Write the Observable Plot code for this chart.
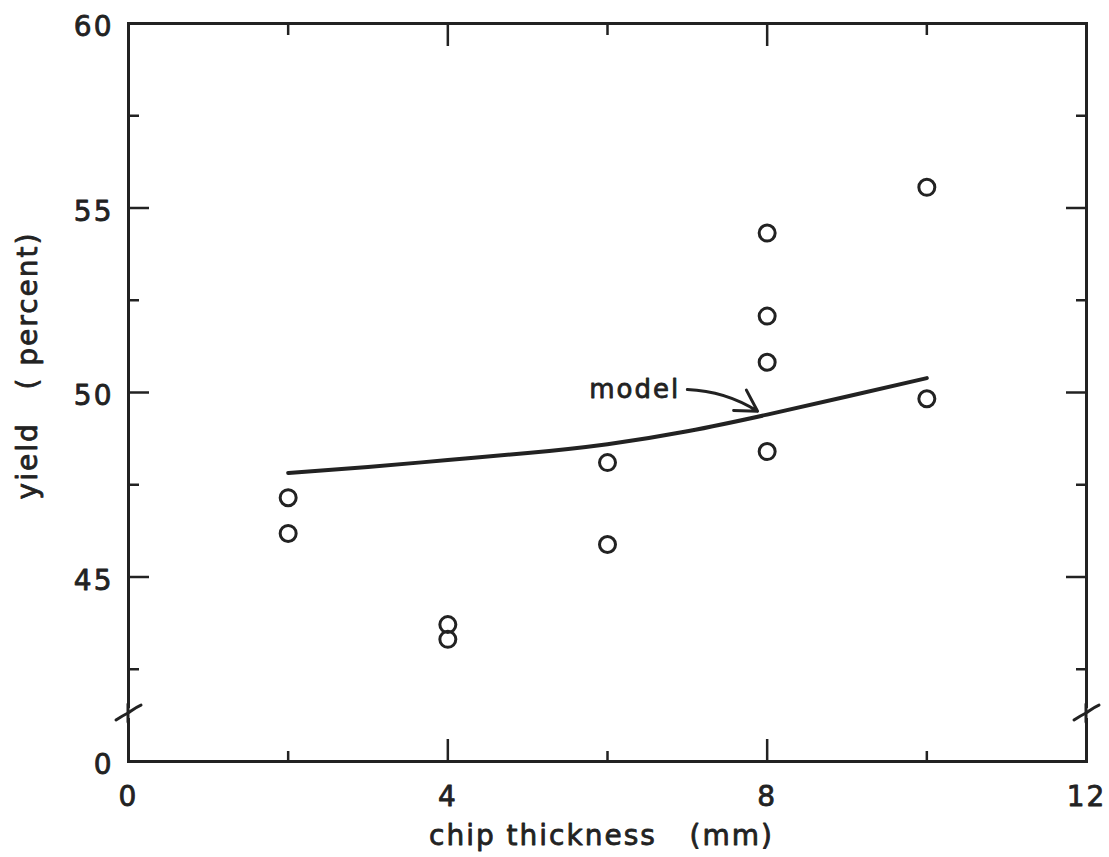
<!DOCTYPE html>
<html>
<head>
<meta charset="utf-8">
<script src="https://cdn.jsdelivr.net/npm/d3@7"></script>
<script src="https://cdn.jsdelivr.net/npm/@observablehq/plot@0.6"></script>
<style>
  html, body { margin: 0; padding: 0; background: #fff; }
  svg text { white-space: pre; }
</style>
</head>
<body>
<div id="chart"></div>
<script>
// observed data
const thickness = [2, 2, 4, 4, 6, 6, 8, 8, 8, 8, 10, 10];
const yieldPct  = [47.15, 46.18, 43.71, 43.31, 48.10, 45.88, 54.32, 52.07, 50.82, 48.40, 55.56, 49.83];

// model curve
const modelX = [2, 3, 4, 5, 6, 7, 8, 9, 10];
const modelY = [47.82, 47.98, 48.17, 48.36, 48.60, 48.95, 49.40, 49.89, 50.39];

// axes
const xDomain = [0, 12];
const yDomain = [40, 60];          // bottom of broken axis is labelled "0"
const xMajorTicks = [4, 8];
const xMinorTicks = [2, 6, 10];
const xTickLabels = [0, 4, 8, 12];
const yMajorTicks = [45, 50, 55];
const yMinorTicks = [42.5, 47.5, 52.5, 57.5];
const yTickValues = [40, 45, 50, 55, 60];
const yTickText   = ["0", "45", "50", "55", "60"];
const yBreak = 41.3;

const xLabel = "chip thickness   (mm)";
const yLabel = "yield   ( percent)";
const modelLabel = {text: "model", x: 6.91, y: 50.08};
const modelArrow = {x1: 7.0, y1: 50.08, x2: 7.88, y2: 49.49};

const points = thickness.map((x, i) => ({x, y: yieldPct[i]}));
const model = modelX.map((x, i) => ({x, y: modelY[i]}));

const ink = "#222";

const breakMarks = (index, {x, y}) => {
  const g = d3.create("svg:g")
    .attr("fill", "none").attr("stroke", ink)
    .attr("stroke-width", 3).attr("stroke-linecap", "round");
  for (const xv of xDomain) {
    const px = x(xv), py = y(yBreak);
    g.append("path").attr("fill", "#fff").attr("stroke", "none")
      .attr("d", `M${px-4},${py-5}h8v10h-8z`);
    g.append("path")
      .attr("d", `M${px-12},${py+7} C${px-6},${py+3} ${px-2},${py+1} ${px},${py} S${px+6},${py-5} ${px+13},${py-8}`);
    g.append("path").attr("d", `M${px},${py-9}L${px},${py-1}M${px},${py+1}L${px},${py+9}`);
  }
  return g.node();
};

const tickOpts = {tickFormat: () => "", label: null, stroke: ink, strokeWidth: 2.5};
const textThick = {textStroke: ink, textStrokeWidth: 0.8};

const chart = Plot.plot({
  width: 1109,
  height: 857,
  marginLeft: 128,
  marginRight: 23,
  marginTop: 23,
  marginBottom: 96,
  style: {fontFamily: "DejaVu Sans", fontSize: "28px", letterSpacing: "2px", color: ink, background: "#fff"},
  x: {domain: xDomain},
  y: {domain: yDomain},
  marks: [
    // inward ticks on all four sides
    Plot.axisX(xMajorTicks, {...tickOpts, anchor: "bottom", tickSize: 22, dy: -22}),
    Plot.axisX(xMinorTicks, {...tickOpts, anchor: "bottom", tickSize: 10, dy: -10}),
    Plot.axisX(xMajorTicks, {...tickOpts, anchor: "top", tickSize: 22, dy: 22}),
    Plot.axisX(xMinorTicks, {...tickOpts, anchor: "top", tickSize: 11, dy: 11}),
    Plot.axisY(yMajorTicks, {...tickOpts, anchor: "left", tickSize: 21, dx: 21}),
    Plot.axisY(yMinorTicks, {...tickOpts, anchor: "left", tickSize: 11, dx: 11}),
    Plot.axisY(yMajorTicks, {...tickOpts, anchor: "right", tickSize: 21, dx: -21}),
    Plot.axisY(yMinorTicks, {...tickOpts, anchor: "right", tickSize: 11, dx: -11}),
    // tick labels
    Plot.axisX(xTickLabels, {...textThick, anchor: "bottom", tickSize: 0, tickPadding: 25, fontSize: 28, label: null, fill: ink}),
    Plot.axisY(yTickValues, {...textThick, anchor: "left", tickSize: 0, tickPadding: 15, dy: 4, fontSize: 28, label: null, fill: ink,
      tickFormat: (d) => yTickText[yTickValues.indexOf(d)]}),
    // frame
    Plot.frame({stroke: ink, strokeWidth: 3}),
    breakMarks,
    // axis titles
    Plot.text([xLabel], {frameAnchor: "bottom", textAnchor: "middle", lineAnchor: "middle", dx: -6, dy: 75,
      fontSize: 28, fill: ink, stroke: ink, strokeWidth: 0.8, text: (d) => d}),
    Plot.text([yLabel], {frameAnchor: "left", textAnchor: "middle", lineAnchor: "middle", rotate: -90, dx: -100, dy: -27,
      fontSize: 28, fill: ink, stroke: ink, strokeWidth: 0.8, text: (d) => d}),
    // model curve
    Plot.line(model, {x: "x", y: "y", curve: "natural", stroke: ink, strokeWidth: 4, strokeLinecap: "round"}),
    Plot.text([modelLabel], {x: "x", y: "y", text: "text", textAnchor: "end", fontSize: 26, fill: ink, stroke: ink, strokeWidth: 0.8}),
    Plot.arrow([modelArrow], {x1: "x1", y1: "y1", x2: "x2", y2: "y2", bend: 15, headLength: 12, stroke: ink, strokeWidth: 3}),
    // observations
    Plot.dot(points, {x: "x", y: "y", r: 8, stroke: ink, strokeWidth: 3, fill: "none"})
  ]
});

document.getElementById("chart").appendChild(chart);
</script>
</body>
</html>
